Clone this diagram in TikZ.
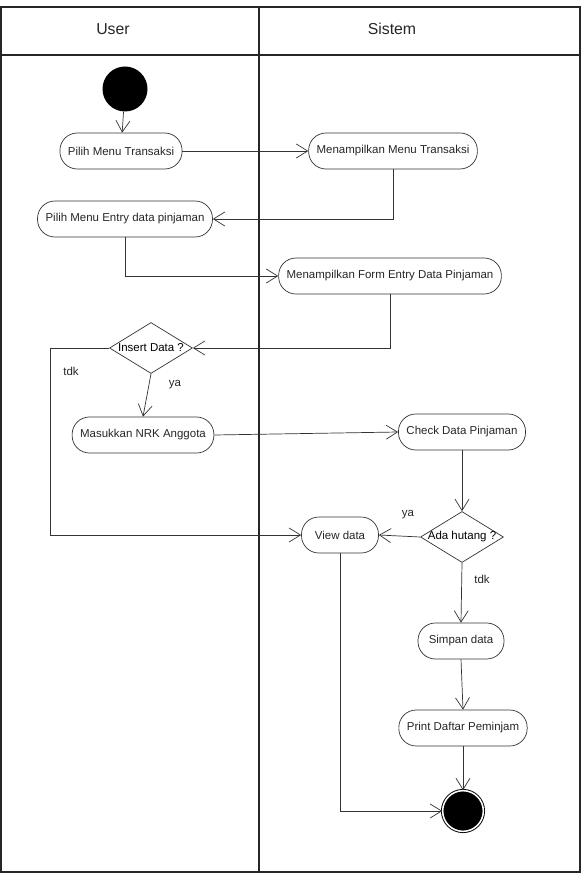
\documentclass[tikz,border=0pt]{standalone}
\usepackage{fontspec}
\setmainfont{Liberation Sans}
\usetikzlibrary{arrows.meta, shapes.geometric}

\begin{document}
\begin{tikzpicture}[
    x=0.03cm, y=-0.03cm,
    >={Straight Barb[length=3.4mm, width=4.2mm]},
    font=\fontsize{9.8}{11}\selectfont,
    lane/.style={line width=1.1pt, black!85},
    act/.style={draw=black!80, rounded corners=0.52cm, line width=0.6pt,
                minimum height=1.08cm, inner xsep=0.24cm, text=black!85},
    dec/.style={draw=black!80, diamond, line width=0.6pt, inner sep=0pt,
                minimum width=2.49cm, minimum height=1.53cm, text=black!85},
    flow/.style={->, line width=0.6pt, black!80},
    lab/.style={text=black!85},
    hdr/.style={font=\fontsize{13.5}{16}\selectfont, text=black!85},
]
\useasboundingbox (0,0) rectangle (581,875);

% swimlanes
\draw[lane] (1,7) rectangle (580,872);
\draw[lane] (1,55) -- (580,55);
\draw[lane] (259,7) -- (259,872);
\node[hdr] (huser) at (113,29) {User};
\node[hdr] (hsis) at (392,29) {Sistem};

% states
\node[circle, fill=black, minimum size=1.35cm, inner sep=0pt] (start) at (125,89) {};
\node[circle, fill=black, draw=black, double=white, double distance=1.3pt,
      line width=0.8pt, minimum size=1.22cm, inner sep=0pt] (stop) at (463,811) {};

% activities
\node[act] (pmt) at (121,151) {Pilih Menu Transaksi};
\node[act] (mmt) at (393,151) {Menampilkan Menu Transaksi};
\node[act] (pme) at (125,219) {Pilih Menu Entry data pinjaman};
\node[act] (mfe) at (390,276) {Menampilkan Form Entry Data Pinjaman};
\node[dec, label={center:Insert Data ?}] (ins) at (151,348) {};
\node[act] (nrk) at (143,435) {Masukkan NRK Anggota};
\node[act] (chk) at (462,432) {Check Data Pinjaman};
\node[dec, label={center:Ada hutang ?}] (ada) at (462,537) {};
\node[act, minimum width=2.31cm] (view) at (340,535) {View data};
\node[act, minimum width=2.58cm] (smp) at (461,641) {Simpan data};
\node[act] (prt) at (463,728) {Print Daftar Peminjam};

\coordinate (tdkc) at (50,348);

% flows
\draw[flow] (start) -- (pmt);
\draw[flow] (pmt) -- (mmt);
\draw[flow] (mmt.south) |- (pme.east);
\draw[flow] (pme.south) |- (mfe.west);
\draw[flow] (mfe.south) |- (ins.east);
\draw[flow] (ins.south) -- (nrk.north);
\draw[flow] (ins.west) -- (tdkc) |- (view.west);
\draw[flow] (nrk.east) -- (chk.west);
\draw[flow] (chk.south) -- (ada.north);
\draw[flow] (ada.west) -- (view.east);
\draw[flow] (ada.south) -- (smp.north);
\draw[flow] (smp.south) -- (prt.north);
\draw[flow] (prt.south) -- (stop.north);
\draw[flow] (view.south) |- (stop.west);

% guards
\node[lab] (ya1) at (175,385) {ya};
\node[lab] (tdk1) at (71,371) {tdk};
\node[lab] (ya2) at (408,515) {ya};
\node[lab] (tdk2) at (482,579) {tdk};

\end{tikzpicture}
\end{document}
